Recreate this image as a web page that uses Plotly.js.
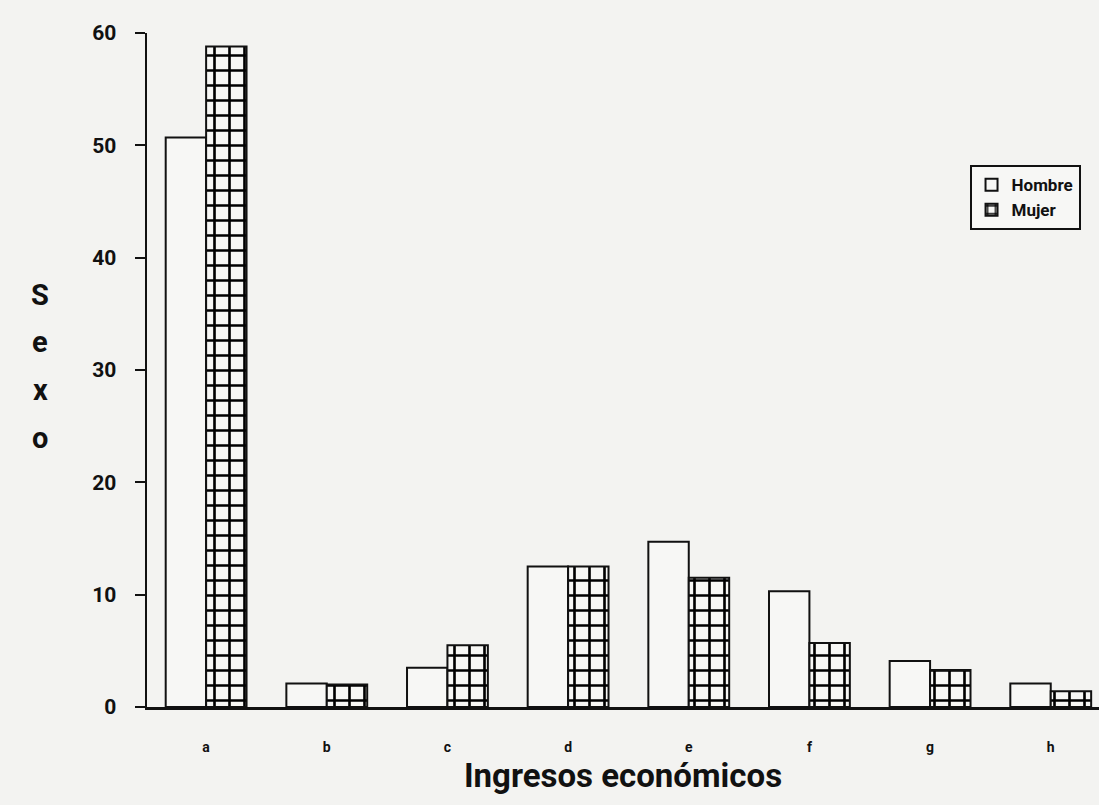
<!DOCTYPE html>
<html>
<head>
<meta charset="utf-8">
<script src="https://cdn.plot.ly/plotly-3.0.1.min.js"></script>
<style>html,body{margin:0;padding:0;background:#f3f3f1;}#chart{width:1099px;height:805px;}</style>
</head>
<body>
<div id="chart"></div>
<script>
const categories = ['a','b','c','d','e','f','g','h'];
const hombre = [50.7, 2.1, 3.5, 12.5, 14.7, 10.3, 4.1, 2.1];
const mujer  = [58.8, 2.0, 5.5, 12.5, 11.5, 5.7, 3.3, 1.4];
const yTicks = [0, 10, 20, 30, 40, 50, 60];
const yTitleLetters = ['S','e','x','o'];

const FONT = "Roboto, 'Liberation Sans Narrow', 'DejaVu Sans', sans-serif";

const traces = [
  {
    type: 'bar', name: 'Hombre', x: categories, y: hombre,
    marker: {color: '#f7f7f5', line: {color: '#111', width: 2}}
  },
  {
    type: 'bar', name: 'Mujer', x: categories, y: mujer,
    marker: {
      color: '#f7f7f5',
      line: {color: '#111', width: 2},
      pattern: {shape: '+', size: 15, solidity: 0.32, fgcolor: '#000', fgopacity: 1, bgcolor: '#f7f7f5', fillmode: 'overlay'}
    }
  }
];

const annotations = yTitleLetters.map((ch, i) => ({
  text: ch, xref: 'paper', yref: 'paper',
  x: -0.112, y: (707 - (295 + 47.5 * i)) / 674, xanchor: 'center', yanchor: 'middle', showarrow: false,
  font: {size: 29, family: FONT, weight: 'bold', color: '#111'}
}));

const layout = {
  width: 1099, height: 805,
  margin: {l: 147, r: 0, t: 33, b: 98},
  paper_bgcolor: '#f3f3f1',
  plot_bgcolor: '#f3f3f1',
  barmode: 'group',
  bargap: 0.33,
  bargroupgap: 0,
  font: {family: FONT, color: '#111', weight: 'bold'},
  showlegend: true,
  legend: {
    x: 0.864, y: 0.804, xanchor: 'left', yanchor: 'top',
    bgcolor: '#f7f7f5', bordercolor: '#111', borderwidth: 2,
    font: {size: 17, family: FONT, weight: 'bold'},
    tracegroupgap: 4
  },
  xaxis: {
    type: 'category',
    range: [-0.49, 7.4],
    showline: true, linecolor: '#111', linewidth: 2.5,
    ticks: '', showgrid: false, zeroline: false,
    tickfont: {size: 14, family: FONT, weight: 'bold'},
    ticklabelstandoff: 26,
    title: {text: 'Ingresos económicos', font: {size: 33, family: FONT, weight: 'bold'}, standoff: 10}
  },
  yaxis: {
    range: [0, 60],
    tickvals: yTicks,
    showline: true, linecolor: '#111', linewidth: 2.5,
    ticks: 'outside', ticklen: 10, tickwidth: 2, tickcolor: '#111',
    showgrid: false, zeroline: false,
    tickfont: {size: 21, family: FONT, weight: 'bold'},
    ticklabelstandoff: 14
  },
  annotations: annotations
};

Plotly.newPlot('chart', traces, layout, {displayModeBar: false, staticPlot: true});
</script>
</body>
</html>
